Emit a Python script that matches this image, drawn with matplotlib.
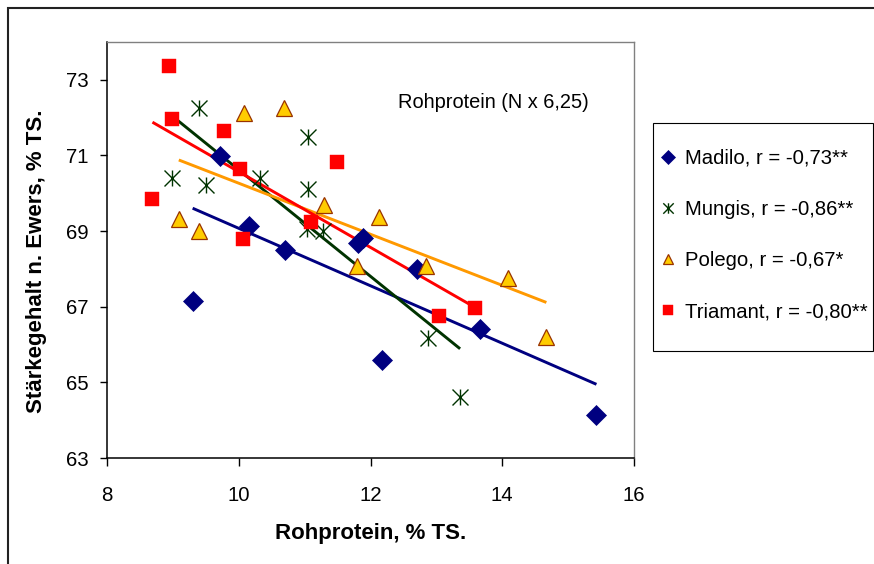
import matplotlib
matplotlib.use("Agg")
import matplotlib.pyplot as plt
import numpy as np
from matplotlib.path import Path
from matplotlib.lines import Line2D
from matplotlib.patches import Rectangle

plt.rcParams['font.family'] = ['Liberation Sans', 'DejaVu Sans']

# ---- data ----
madilo_x = [9.30, 9.71, 10.15, 10.70, 11.81, 11.88, 12.17, 12.70, 13.66, 15.43]
madilo_y = [67.14, 70.98, 69.13, 68.51, 68.68, 68.83, 65.60, 68.00, 66.42, 64.14]

mungis_x = [8.99, 9.39, 9.50, 10.32, 11.05, 11.05, 11.03, 11.28, 12.88, 13.36]
mungis_y = [70.41, 72.25, 70.23, 70.41, 71.50, 70.10, 69.05, 69.00, 66.17, 64.62]

polego_x = [9.09, 9.39, 10.08, 10.68, 11.29, 11.79, 12.13, 12.84, 14.08, 14.67]
polego_y = [69.31, 69.00, 72.12, 72.25, 69.68, 68.07, 69.36, 68.07, 67.77, 66.20]

triamant_x = [8.94, 8.98, 9.78, 8.69, 10.02, 10.06, 11.49, 11.10, 13.04, 13.58]
triamant_y = [73.37, 71.97, 71.65, 69.85, 70.63, 68.78, 70.82, 69.23, 66.75, 66.96]

labels = ["Madilo, r = -0,73**", "Mungis, r = -0,86**",
          "Polego, r = -0,67*", "Triamant, r = -0,80**"]
x_ticks = [8, 10, 12, 14, 16]
y_ticks = [63, 65, 67, 69, 71, 73]
annotation = "Rohprotein (N x 6,25)"
x_label = "Rohprotein, % TS."
y_label = "Stärkegehalt n. Ewers, % TS."

# asterisk marker (vertical + X)
star = Path([(0, -1), (0, 1), (-1, -1), (1, 1), (-1, 1), (1, -1)],
            [Path.MOVETO, Path.LINETO, Path.MOVETO, Path.LINETO, Path.MOVETO, Path.LINETO])

W, H = 874, 564
fig = plt.figure(figsize=(W / 100, H / 100), dpi=100)
ax = fig.add_axes([107 / W, 1 - 458 / H, (634 - 107) / W, (458 - 42) / H])

series = [
    (madilo_x, madilo_y, dict(marker='D', ms=9.8, mfc='#000080', mec='#000080', mew=0.5), '#000080', 6.8),
    (mungis_x, mungis_y, dict(marker=star, ms=11.5, mfc='none', mec='#003300', mew=1.0), '#003300', 7.5),
    (polego_x, polego_y, dict(marker='^', ms=11, mfc='#FFCC00', mec='#993300', mew=0.9), '#FF9900', 7.8),
    (triamant_x, triamant_y, dict(marker='s', ms=9.8, mfc='#FF0000', mec='#FF0000', mew=0.3), '#FF0000', 6.8),
]

handles = []
for xs, ys, mk, lc, lms in series:
    xs = np.asarray(xs); ys = np.asarray(ys)
    k, b = np.polyfit(xs, ys, 1)
    xl = np.array([xs.min(), xs.max()])
    ax.plot(xl, k * xl + b, color=lc, lw=2.1, zorder=2, solid_capstyle='butt')
    ax.plot(xs, ys, linestyle='none', zorder=3, **mk)
    hmk = dict(mk); hmk['ms'] = lms
    handles.append(Line2D([], [], linestyle='none', **hmk))

ax.set_xlim(8, 16)
ax.set_ylim(63, 74)
ax.set_xticks(x_ticks)
ax.set_yticks(y_ticks)
ax.tick_params(axis='both', direction='out', labelsize=14.7, color='#000000', width=1.0)
ax.tick_params(axis='x', length=6, pad=14)
ax.tick_params(axis='y', length=5, pad=8)
for s in ['top', 'right']:
    ax.spines[s].set_color('#808080')
    ax.spines[s].set_linewidth(1.0)
for s in ['left', 'bottom']:
    ax.spines[s].set_color('#000000')
    ax.spines[s].set_linewidth(1.1)

ax.set_xlabel(x_label, fontsize=16, fontweight='bold')
ax.set_ylabel(y_label, fontsize=16, fontweight='bold')
ax.xaxis.set_label_coords(0.5, (458 - 533) / 416)
ax.xaxis.label.set_verticalalignment('center')
ax.yaxis.set_label_coords((37 - 107) / 527, (458 - 261) / 416)
ax.yaxis.label.set_verticalalignment('center')

ax.text((398 - 107) / 527, (458 - 103) / 416, annotation, transform=ax.transAxes,
        ha='left', va='center', fontsize=14.4)

# legend
fs = 14.6
leg = fig.legend(handles, labels, loc='upper left',
                 bbox_to_anchor=(657.5 / W, 1 - 149 / H), bbox_transform=fig.transFigure,
                 frameon=False, borderpad=0, borderaxespad=0, handlelength=1.0,
                 handletextpad=0.35, labelspacing=1.58, fontsize=fs, numpoints=1)
fig.patches.append(Rectangle((653 / W, 1 - 351 / H), 220 / W, 228 / H, transform=fig.transFigure,
                             fill=False, edgecolor='#000000', lw=0.8))

# outer chart border
fig.patches.append(Rectangle((7.5 / W, -0.05), 1.1, 1 - 7.5 / H + 0.05, transform=fig.transFigure,
                             fill=False, edgecolor='#222222', lw=1.5))

fig.savefig("out.png", dpi=100)
